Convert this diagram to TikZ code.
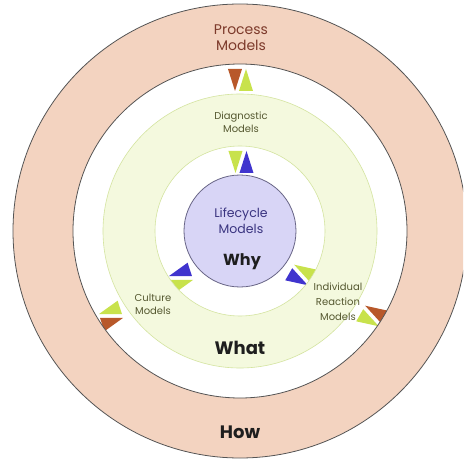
\documentclass[tikz,border=0pt]{standalone}
\usepackage{fontspec}
\setmainfont{Poppins}

\definecolor{howfill}{RGB}{243,211,192}
\definecolor{howline}{RGB}{85,85,85}
\definecolor{whatfill}{RGB}{244,249,222}
\definecolor{whatline}{RGB}{212,228,160}
\definecolor{whyfill}{RGB}{216,213,246}
\definecolor{whyline}{RGB}{105,102,135}
\definecolor{tipbrown}{RGB}{184,88,42}
\definecolor{tiplime}{RGB}{200,226,76}
\definecolor{tipblue}{RGB}{64,52,206}
\definecolor{processink}{RGB}{125,58,43}
\definecolor{modelink}{RGB}{85,88,48}
\definecolor{lifeink}{RGB}{58,52,128}
\definecolor{wordink}{RGB}{30,30,30}

\begin{document}
\begin{tikzpicture}[
    x=1pt, y=1pt,
    ring/.style={even odd rule, line width=0.8pt},
    modeltext/.style={
        align=center,
        inner sep=1pt,
        text=modelink,
        font=\fontsize{10}{13}\selectfont
    },
    keyword/.style={
        inner sep=1pt,
        text=wordink,
        font=\fontsize{18}{20}\selectfont\bfseries
    }
]

\useasboundingbox (-240,-232) rectangle (223,231);
\clip (-240,-232) rectangle (223,231);
\fill[white] (-240,-232) rectangle (223,231);

% Paired tips between the rings: outer colour points in, inner colour points out
\foreach \px/\py/\dir/\outc/\inc in {
    0.5/151/90/tipbrown/tiplime,
    1/69/90/tiplime/tipblue,
    -129/-85/198/tipbrown/tiplime,
    -59/-47/198/tiplime/tipblue,
    132/-85/330/tipbrown/tiplime,
    61/-44/330/tiplime/tipblue}
{
    \begin{scope}[shift={(\px,\py)}, rotate=\dir]
        \fill[\outc] (11,12.5) -- (11,-1.5) -- (-11,5.5) -- cycle;
        \fill[\inc] (-11,1.5) -- (-11,-12.5) -- (11,-5.5) -- cycle;
    \end{scope}
}

% Rings
\coordinate (c) at (0,0);
\filldraw[ring, fill=howfill, draw=howline] (c) circle (227) (c) circle (167);
\filldraw[ring, fill=whatfill, draw=whatline, line width=0.6pt] (c) circle (137) (c) circle (85);
\filldraw[fill=whyfill, draw=whyline, line width=0.8pt] (c) circle (56);

% Ring labels
\node[modeltext, text=processink, font=\fontsize{14}{16}\selectfont] (process) at (1,193) {Process\\Models};
\node[modeltext] (diagnostic) at (1,109) {Diagnostic\\Models};
\node[modeltext, text=lifeink, font=\fontsize{12.5}{16}\selectfont] (lifecycle) at (1,10) {Lifecycle\\Models};
\node[modeltext] (culture) at (-87,-73.5) {Culture\\Models};
\node[modeltext, font=\fontsize{10}{15}\selectfont] (reaction) at (98,-71) {Individual\\Reaction\\Models};

\node[keyword, font=\fontsize{16}{18}\selectfont\bfseries] (why) at (2,-31) {Why};
\node[keyword] (what) at (0,-117) {What};
\node[keyword] (how) at (0,-201) {How};

\end{tikzpicture}
\end{document}
